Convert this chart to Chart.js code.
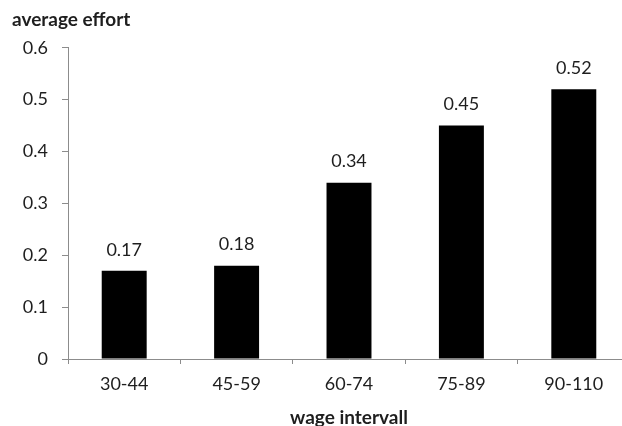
<!DOCTYPE html>
<html>
<head>
<meta charset="utf-8">
<script src="https://cdn.jsdelivr.net/npm/chart.js@4/dist/chart.umd.min.js"></script>
<style>
  html, body { margin: 0; padding: 0; background: #fff; overflow: hidden; }
  #wrap { position: relative; width: 640px; height: 426px; }
</style>
</head>
<body>
<div id="wrap"><canvas id="chart"></canvas></div>
<script>
// Average effort per wage interval
const categories = ['30-44', '45-59', '60-74', '75-89', '90-110'];
const effort = [0.17, 0.18, 0.34, 0.45, 0.52];
const yTickLabels = ['0', '0.1', '0.2', '0.3', '0.4', '0.5', '0.6'];

const FONT = 'Lato, "Open Sans", sans-serif';
const TEXT = '#1e1e1e';
const AXIS = '#8c8c8c';

// Writes each bar's value just above it
const valueLabels = {
  id: 'valueLabels',
  afterDatasetsDraw(chart) {
    const ctx = chart.ctx;
    const meta = chart.getDatasetMeta(0);
    ctx.save();
    ctx.font = '18px ' + FONT;
    ctx.fillStyle = TEXT;
    ctx.textAlign = 'center';
    ctx.textBaseline = 'middle';
    meta.data.forEach((bar, i) => {
      ctx.fillText(effort[i].toFixed(2), bar.x, bar.y - 21);
    });
    ctx.restore();
  }
};

new Chart(document.getElementById('chart'), {
  type: 'bar',
  data: {
    labels: categories,
    datasets: [{
      data: effort,
      backgroundColor: '#000',
      borderWidth: 0,
      barPercentage: 0.4,
      categoryPercentage: 1.0
    }]
  },
  options: {
    responsive: true,
    maintainAspectRatio: false,
    animation: false,
    events: [],
    layout: { padding: { left: 12, right: 10, top: 0, bottom: 0 } },
    plugins: {
      legend: { display: false },
      tooltip: { enabled: false },
      title: {
        display: true,
        text: 'average effort',
        align: 'start',
        color: TEXT,
        font: { family: FONT, size: 19, weight: 'bold' },
        padding: { top: 8, bottom: 17 }
      }
    },
    scales: {
      x: {
        grid: {
          display: true,
          offset: true,
          drawOnChartArea: false,
          drawTicks: true,
          tickLength: 5,
          color: AXIS
        },
        border: { display: true, color: AXIS, width: 1 },
        ticks: {
          color: TEXT,
          font: { family: FONT, size: 18 },
          padding: 9,
          maxRotation: 0
        },
        title: {
          display: true,
          text: 'wage intervall',
          color: TEXT,
          font: { family: FONT, size: 19, weight: 'bold', lineHeight: 0.9 },
          padding: { top: 0, bottom: 0 }
        },
        afterFit: (s) => { s.height = 67; }
      },
      y: {
        min: 0,
        max: 0.6,
        grid: {
          display: true,
          drawOnChartArea: false,
          drawTicks: true,
          tickLength: 6,
          color: AXIS
        },
        border: { display: true, color: AXIS, width: 1 },
        ticks: {
          stepSize: 0.1,
          color: TEXT,
          font: { family: FONT, size: 18 },
          padding: 14,
          callback: (v, i) => yTickLabels[i]
        },
        afterFit: (s) => { s.width = 56; }
      }
    }
  },
  plugins: [valueLabels]
});
</script>
</body>
</html>
